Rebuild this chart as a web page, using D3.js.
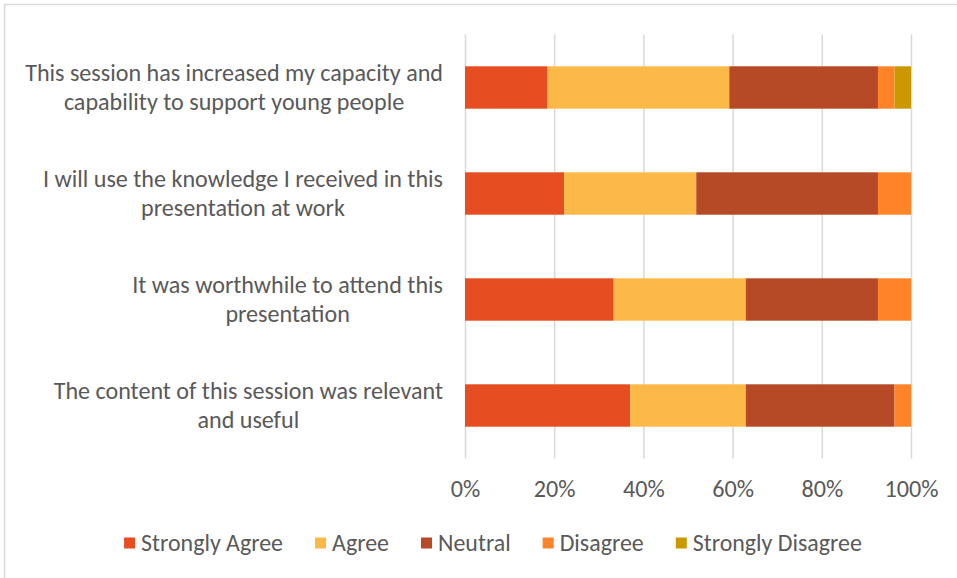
<!DOCTYPE html>
<html>
<head>
<meta charset="utf-8">
<script src="https://cdn.jsdelivr.net/npm/d3@7"></script>
<style>
  html, body { margin: 0; padding: 0; background: #fff; }
  svg { display: block; }
  text { font-family: Carlito, Calibri, "Open Sans", sans-serif; fill: #595959; }
</style>
</head>
<body>
<svg id="chart" width="957" height="578"></svg>
<script>
// Survey statements, top to bottom
const statements = [
  "This session has increased my capacity and|capability to support young people",
  "I will use the knowledge I received in this|presentation at work",
  "It was worthwhile to attend this|presentation",
  "The content of this session was relevant|and useful"
];
const responses = ["Strongly Agree", "Agree", "Neutral", "Disagree", "Strongly Disagree"];
// Share of responses (%) per statement
const stronglyAgree    = [18.5, 22.2, 33.3, 37.0];
const agree            = [40.7, 29.6, 29.6, 25.9];
const neutral          = [33.3, 40.7, 29.6, 33.3];
const disagree         = [3.7, 7.4, 7.4, 3.7];
const stronglyDisagree = [3.7, 0, 0, 0];
const tickValues = [0, 0.2, 0.4, 0.6, 0.8, 1];
const colors = ["#E64E22", "#FDB947", "#B64926", "#FF8427", "#CC9800"];

const seriesArrays = [stronglyAgree, agree, neutral, disagree, stronglyDisagree];
const rows = statements.map((s, i) => {
  const r = { statement: s };
  responses.forEach((k, j) => r[k] = seriesArrays[j][i]);
  return r;
});

const svg = d3.select("#chart");

// Font size that makes a sample string reach a given width
function fitSize(sample, targetWidth) {
  const t = svg.append("text").attr("font-size", 20).text(sample);
  const w = t.node().getComputedTextLength();
  t.remove();
  return 20 * targetWidth / w;
}
const labelSize = fitSize("This session has increased my capacity and", 418);
const tickSize = fitSize("100%", 54);
const legendSize = fitSize("Strongly Agree", 142);

// Outer chart frame
svg.append("rect")
  .attr("x", 4.5).attr("y", 4.5).attr("width", 1000).attr("height", 1000)
  .attr("fill", "none").attr("stroke", "#d9d9d9").attr("stroke-width", 1.5);

const plot = { left: 465, right: 911, top: 34.5, bottom: 458.5 };

const x = d3.scaleLinear().domain([0, 1]).range([plot.left, plot.right]);
const y = d3.scaleBand().domain(statements).range([plot.top, plot.bottom])
  .paddingInner(0.6).paddingOuter(0.3);
const color = d3.scaleOrdinal().domain(responses).range(colors);

// Gridlines and percentage ticks
const xAxis = d3.axisBottom(x).tickValues(tickValues).tickSize(-(plot.bottom - plot.top))
  .tickFormat(d3.format(".0%")).tickPadding(21);
const gx = svg.append("g").attr("transform", `translate(0,${plot.bottom})`).call(xAxis);
gx.attr("font-family", null).attr("font-size", null);
gx.select(".domain").remove();
gx.selectAll(".tick line").attr("stroke", "#d9d9d9").attr("stroke-width", 1.5);
gx.selectAll(".tick text").attr("font-size", tickSize).attr("fill", "#595959");

// Stacked bars normalised to 100%
const stack = d3.stack().keys(responses).offset(d3.stackOffsetExpand);
const layers = stack(rows);

svg.append("g").selectAll("g").data(layers).join("g")
  .attr("fill", d => color(d.key))
  .selectAll("rect").data(d => d).join("rect")
  .attr("x", d => x(d[0]))
  .attr("y", d => y(d.data.statement))
  .attr("width", d => Math.max(0, x(d[1]) - x(d[0])))
  .attr("height", y.bandwidth());

// Category labels: wrapped lines, centred within a right-aligned block
const labelRight = 443;
const lineGap = 29;
const gy = svg.append("g");
statements.forEach(s => {
  const lines = s.split("|");
  const cy = y(s) + y.bandwidth() / 2;
  const g = gy.append("g");
  const texts = lines.map((l, i) => g.append("text")
    .attr("font-size", labelSize)
    .attr("text-anchor", "middle")
    .attr("dy", "0.35em")
    .attr("y", cy + (i - (lines.length - 1) / 2) * lineGap)
    .text(l));
  const maxW = d3.max(texts, t => t.node().getComputedTextLength());
  texts.forEach(t => t.attr("x", labelRight - maxW / 2));
});

// Legend
const legend = svg.append("g");
const items = responses.map(r => {
  const g = legend.append("g");
  g.append("rect").attr("width", 11).attr("height", 11).attr("y", -5.5).attr("fill", color(r));
  g.append("text").attr("x", 17).attr("dy", "0.35em").attr("font-size", legendSize).text(r);
  return g;
});
let cursor = 0;
const gap = 32;
items.forEach(g => {
  g.attr("transform", `translate(${cursor},0)`);
  cursor += g.node().getBBox().width + gap;
});
const totalW = cursor - gap;
legend.attr("transform", `translate(${493 - totalW / 2},543)`);
</script>
</body>
</html>
